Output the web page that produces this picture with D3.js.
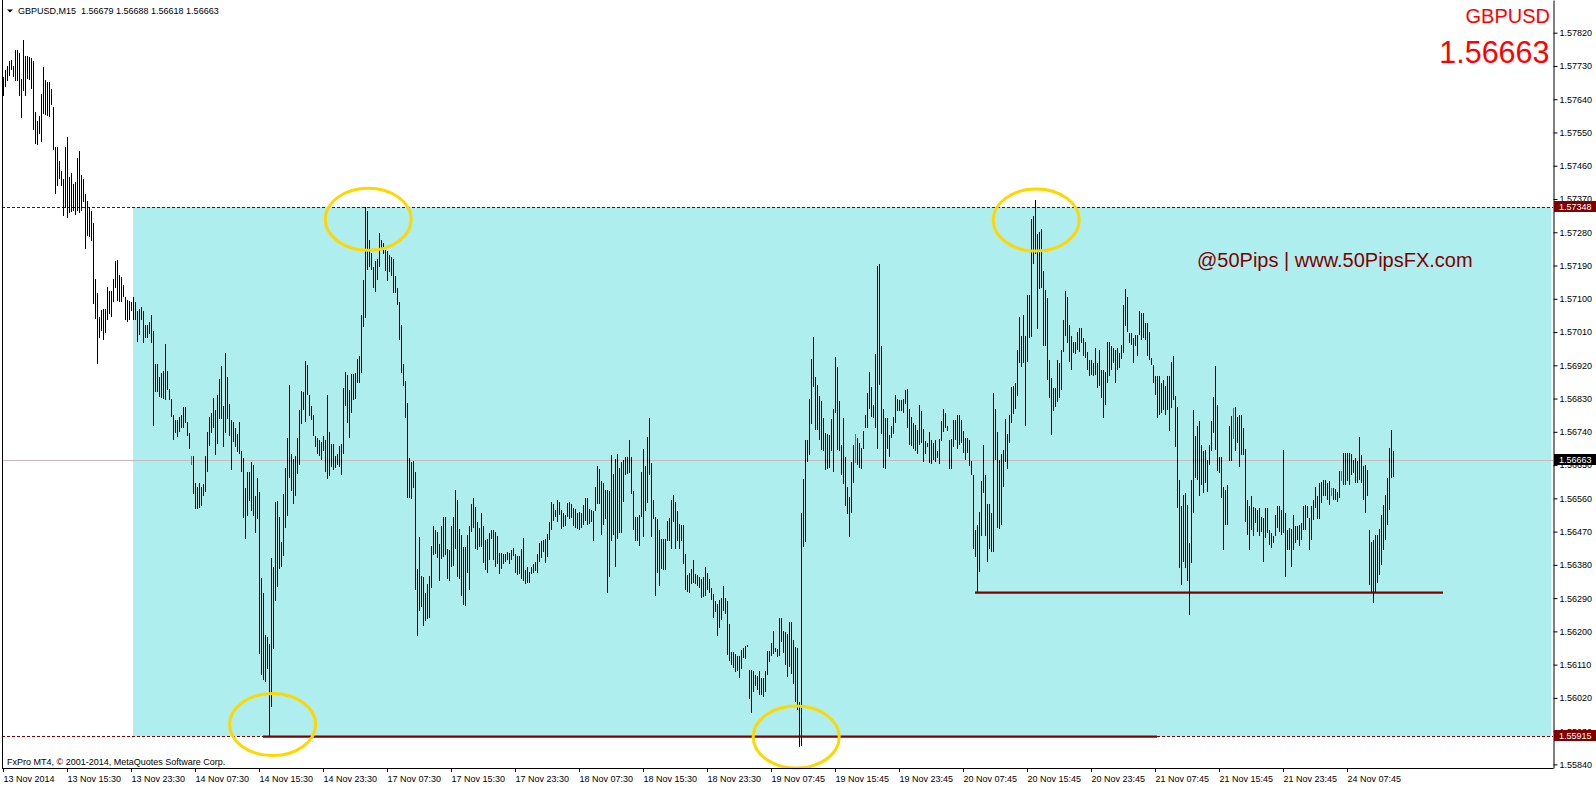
<!DOCTYPE html>
<html><head><meta charset="utf-8">
<script src="https://cdn.jsdelivr.net/npm/d3@7"></script>
<style>
html,body{margin:0;padding:0;background:#fff;overflow:hidden}
svg{display:block}
text{font-family:'Liberation Sans',Arial,sans-serif}
</style></head><body>
<svg id="chart" width="1596" height="786"></svg>
<script>
const symbol = "GBPUSD";
const timeframe = "M15";
const lastBar = {open: 1.56679, high: 1.56688, low: 1.56618, close: 1.56663};

const highs = [
1.57701,1.57719,1.57731,1.57744,1.57747,1.57729,1.57772,1.57774,1.57766,1.57695,
1.57800,1.57757,1.57757,1.57753,1.57751,1.57744,1.57606,1.57582,1.57594,1.57655,
1.57727,1.57692,1.57686,1.57686,1.57668,1.57619,1.57511,1.57511,1.57472,1.57447,
1.57423,1.57511,1.57537,1.57429,1.57441,1.57410,1.57416,1.57480,1.57500,1.57435,
1.57423,1.57383,1.57365,1.57349,1.57337,1.57304,1.57153,1.57116,1.57051,1.57070,
1.57071,1.57073,1.57131,1.57120,1.57122,1.57153,1.57202,1.57206,1.57165,1.57159,
1.57138,1.57104,1.57098,1.57094,1.57092,1.57106,1.57092,1.57067,1.57073,1.57077,
1.57067,1.57030,1.57030,1.57037,1.57057,1.57012,1.56924,1.56924,1.56887,1.56899,
1.56905,1.56978,1.56904,1.56855,1.56828,1.56785,1.56773,1.56773,1.56779,1.56785,
1.56807,1.56807,1.56767,1.56736,1.56675,1.56675,1.56602,1.56592,1.56602,1.56592,
1.56598,1.56675,1.56740,1.56779,1.56791,1.56831,1.56800,1.56840,1.56883,1.56918,
1.56810,1.56954,1.56889,1.56816,1.56773,1.56767,1.56749,1.56733,1.56767,1.56687,
1.56669,1.56589,1.56630,1.56630,1.56657,1.56651,1.56565,1.56614,1.56577,1.56344,
1.56304,1.56191,1.56185,1.56166,1.56399,1.56375,1.56549,1.56552,1.56510,1.56442,
1.56571,1.56641,1.56724,1.56867,1.56681,1.56666,1.56675,1.56724,1.56800,1.56850,
1.56847,1.56932,1.56920,1.56840,1.56810,1.56785,1.56730,1.56724,1.56718,1.56712,
1.56728,1.56718,1.56840,1.56740,1.56706,1.56706,1.56675,1.56681,1.56702,1.56706,
1.56859,1.56902,1.56894,1.56852,1.56897,1.56897,1.56900,1.56938,1.56945,1.57055,
1.57152,1.57348,1.57338,1.57259,1.57223,1.57187,1.57203,1.57208,1.57277,1.57259,
1.57251,1.57233,1.57228,1.57218,1.57213,1.57208,1.57162,1.57128,1.57091,1.57030,
1.56923,1.56877,1.56819,1.56668,1.56658,1.56660,1.56631,1.56368,1.56455,1.56350,
1.56348,1.56305,1.56327,1.56350,1.56432,1.56485,1.56473,1.56470,1.56436,1.56485,
1.56510,1.56510,1.56424,1.56419,1.56485,1.56510,1.56582,1.56556,1.56477,1.56460,
1.56429,1.56427,1.56460,1.56485,1.56546,1.56561,1.56536,1.56495,1.56480,1.56521,
1.56485,1.56446,1.56449,1.56465,1.56473,1.56475,1.56470,1.56457,1.56412,1.56412,
1.56409,1.56409,1.56414,1.56412,1.56419,1.56426,1.56409,1.56404,1.56404,1.56424,
1.56452,1.56365,1.56375,1.56361,1.56373,1.56383,1.56388,1.56409,1.56439,1.56444,
1.56446,1.56449,1.56463,1.56497,1.56551,1.56546,1.56528,1.56556,1.56551,1.56528,
1.56521,1.56516,1.56548,1.56551,1.56546,1.56534,1.56531,1.56521,1.56524,1.56521,
1.56541,1.56561,1.56561,1.56531,1.56528,1.56526,1.56592,1.56648,1.56640,1.56607,
1.56602,1.56582,1.56582,1.56579,1.56676,1.56626,1.56666,1.56680,1.56643,1.56658,
1.56663,1.56673,1.56673,1.56717,1.56673,1.56579,1.56510,1.56510,1.56514,1.56630,
1.56694,1.56648,1.56727,1.56778,1.56656,1.56556,1.56510,1.56505,1.56475,1.56449,
1.56449,1.56449,1.56500,1.56507,1.56556,1.56568,1.56551,1.56526,1.56490,1.56487,
1.56487,1.56409,1.56353,1.56358,1.56368,1.56393,1.56355,1.56353,1.56348,1.56342,
1.56348,1.56373,1.56358,1.56342,1.56317,1.56302,1.56281,1.56273,1.56286,1.56290,
1.56322,1.56290,1.56281,1.56220,1.56144,1.56144,1.56139,1.56134,1.56134,1.56149,
1.56154,1.56161,1.56164,1.56096,1.56095,1.56093,1.56083,1.56078,1.56093,1.56073,
1.56073,1.56093,1.56146,1.56147,1.56169,1.56202,1.56154,1.56151,1.56236,1.56236,
1.56202,1.56198,1.56192,1.56225,1.56225,1.56178,1.56157,1.56154,1.56009,1.56521,
1.56612,1.56719,1.56717,1.56829,1.56938,1.56997,1.56889,1.56867,1.56836,1.56823,
1.56778,1.56737,1.56734,1.56731,1.56775,1.56803,1.56943,1.56915,1.56823,1.56704,
1.56778,1.56673,1.56592,1.56564,1.56658,1.56704,1.56734,1.56724,1.56709,1.56696,
1.56742,1.56785,1.56846,1.56902,1.56862,1.56813,1.56950,1.57189,1.57195,1.56972,
1.56803,1.56778,1.56778,1.56731,1.56755,1.56780,1.56839,1.56829,1.56826,1.56826,
1.56829,1.56852,1.56857,1.56801,1.56780,1.56765,1.56758,1.56745,1.56813,1.56796,
1.56748,1.56714,1.56711,1.56740,1.56717,1.56709,1.56717,1.56689,1.56721,1.56770,
1.56803,1.56792,1.56755,1.56719,1.56721,1.56772,1.56772,1.56785,1.56785,1.56772,
1.56742,1.56724,1.56724,1.56717,1.56660,1.56622,1.56473,1.56487,1.56524,1.56607,
1.56704,1.56622,1.56544,1.56546,1.56521,1.56846,1.56801,1.56740,1.56663,1.56680,
1.56691,1.56775,1.56734,1.56785,1.56860,1.56864,1.56872,1.56961,1.57050,1.56999,
1.57055,1.56999,1.57111,1.57111,1.57317,1.57325,1.57366,1.57274,1.57281,1.57288,
1.57174,1.57124,1.57102,1.56935,1.56885,1.56858,1.56858,1.56935,1.56926,1.56962,
1.57043,1.57120,1.57106,1.57029,1.56998,1.56984,1.56984,1.57011,1.57020,1.57020,
1.56993,1.56984,1.56957,1.56935,1.56935,1.56926,1.56966,1.56926,1.56962,1.56908,
1.56908,1.56903,1.56982,1.56982,1.56971,1.56966,1.56962,1.56966,1.56953,1.56975,
1.57084,1.57126,1.57106,1.57007,1.57007,1.56993,1.57002,1.57002,1.57066,1.57061,
1.57061,1.57034,1.57034,1.57011,1.56939,1.56921,1.56890,1.56892,1.56890,1.56872,
1.56881,1.56863,1.56890,1.56890,1.56930,1.56944,1.56837,1.56808,1.56610,1.56538,
1.56569,1.56574,1.56542,1.56439,1.56610,1.56799,1.56729,1.56756,1.56768,1.56705,
1.56689,1.56691,1.56664,1.56705,1.56768,1.56834,1.56917,1.56813,1.56673,1.56673,
1.56592,1.56583,1.56597,1.56756,1.56783,1.56804,1.56807,1.56781,1.56786,1.56786,
1.56750,1.56693,1.56556,1.56538,1.56567,1.56536,1.56533,1.56529,1.56533,1.56509,
1.56506,1.56533,1.56533,1.56473,1.56466,1.56458,1.56515,1.56538,1.56538,1.56529,
1.56691,1.56520,1.56475,1.56479,1.56477,1.56515,1.56484,1.56486,1.56488,1.56493,
1.56538,1.56542,1.56540,1.56506,1.56538,1.56556,1.56592,1.56565,1.56601,1.56603,
1.56610,1.56610,1.56601,1.56606,1.56588,1.56588,1.56585,1.56578,1.56633,1.56635,
1.56682,1.56682,1.56682,1.56682,1.56680,1.56664,1.56669,1.56660,1.56725,1.56678,
1.56648,1.56651,1.56637,1.56475,1.56443,1.56446,1.56461,1.56461,1.56477,1.56515,
1.56542,1.56569,1.56615,1.56696,1.56745,1.56688
];

const lows = [
1.57649,1.57674,1.57690,1.57704,1.57719,1.57701,1.57690,1.57689,1.57648,1.57588,
1.57662,1.57649,1.57695,1.57692,1.57668,1.57557,1.57518,1.57517,1.57545,1.57523,
1.57600,1.57598,1.57594,1.57592,1.57625,1.57502,1.57383,1.57404,1.57423,1.57404,
1.57325,1.57347,1.57318,1.57331,1.57334,1.57337,1.57328,1.57337,1.57331,1.57337,
1.57361,1.57235,1.57269,1.57266,1.57257,1.57086,1.57045,1.56924,1.56994,1.57012,
1.56988,1.57008,1.57043,1.57060,1.57052,1.57092,1.57128,1.57094,1.57092,1.57092,
1.57104,1.57043,1.57037,1.57043,1.57067,1.57043,1.57043,1.56984,1.57003,1.57043,
1.56981,1.56994,1.56994,1.57006,1.56981,1.56755,1.56847,1.56847,1.56834,1.56832,
1.56828,1.56825,1.56853,1.56825,1.56779,1.56718,1.56736,1.56727,1.56739,1.56749,
1.56751,1.56763,1.56730,1.56693,1.56651,1.56571,1.56530,1.56530,1.56534,1.56538,
1.56565,1.56577,1.56632,1.56702,1.56736,1.56749,1.56678,1.56706,1.56776,1.56776,
1.56700,1.56736,1.56776,1.56730,1.56636,1.56712,1.56700,1.56685,1.56681,1.56632,
1.56507,1.56451,1.56513,1.56552,1.56526,1.56513,1.56467,1.56503,1.56138,1.56081,
1.56068,1.56062,1.56099,1.55915,1.55995,1.56151,1.56283,1.56320,1.56369,1.56375,
1.56405,1.56481,1.56513,1.56614,1.56579,1.56546,1.56565,1.56626,1.56651,1.56761,
1.56798,1.56767,1.56840,1.56783,1.56771,1.56728,1.56700,1.56681,1.56675,1.56665,
1.56687,1.56632,1.56611,1.56620,1.56644,1.56638,1.56641,1.56651,1.56644,1.56622,
1.56681,1.56811,1.56765,1.56724,1.56792,1.56826,1.56828,1.56872,1.56872,1.56899,
1.57023,1.57047,1.57177,1.57187,1.57177,1.57128,1.57118,1.57152,1.57187,1.57233,
1.57220,1.57175,1.57147,1.57172,1.57162,1.57116,1.57116,1.57084,1.56989,1.56900,
1.56864,1.56778,1.56561,1.56561,1.56559,1.56589,1.56312,1.56187,1.56256,1.56266,
1.56215,1.56228,1.56233,1.56236,1.56317,1.56406,1.56409,1.56398,1.56337,1.56396,
1.56402,1.56406,1.56342,1.56337,1.56373,1.56378,1.56424,1.56346,1.56342,1.56297,
1.56271,1.56269,1.56358,1.56312,1.56470,1.56480,1.56422,1.56419,1.56429,1.56429,
1.56385,1.56365,1.56358,1.56393,1.56449,1.56393,1.56373,1.56383,1.56355,1.56368,
1.56383,1.56388,1.56393,1.56383,1.56393,1.56404,1.56358,1.56353,1.56355,1.56342,
1.56337,1.56327,1.56330,1.56332,1.56355,1.56358,1.56363,1.56358,1.56388,1.56398,
1.56414,1.56385,1.56402,1.56446,1.56475,1.56500,1.56510,1.56495,1.56516,1.56477,
1.56483,1.56485,1.56510,1.56505,1.56507,1.56485,1.56480,1.56477,1.56475,1.56480,
1.56487,1.56500,1.56487,1.56490,1.56495,1.56444,1.56526,1.56546,1.56544,1.56460,
1.56487,1.56505,1.56304,1.56348,1.56444,1.56460,1.56375,1.56449,1.56465,1.56465,
1.56551,1.56622,1.56625,1.56628,1.56572,1.56473,1.56444,1.56444,1.56432,1.56510,
1.56455,1.56526,1.56548,1.56622,1.56455,1.56505,1.56297,1.56358,1.56324,1.56368,
1.56365,1.56365,1.56444,1.56444,1.56424,1.56495,1.56424,1.56444,1.56424,1.56444,
1.56383,1.56312,1.56307,1.56304,1.56327,1.56332,1.56327,1.56324,1.56317,1.56290,
1.56292,1.56297,1.56312,1.56304,1.56286,1.56236,1.56253,1.56188,1.56208,1.56231,
1.56256,1.56246,1.56137,1.56119,1.56110,1.56100,1.56090,1.56093,1.56073,1.56098,
1.56129,1.56124,1.56157,1.56017,1.55978,1.56037,1.56052,1.56042,1.56029,1.56027,
1.56022,1.56037,1.56083,1.56116,1.56134,1.56139,1.56144,1.56131,1.56134,1.56171,
1.56141,1.56110,1.56076,1.56103,1.56086,1.56057,1.56009,1.55986,1.55887,1.55890,
1.56429,1.56442,1.56658,1.56676,1.56760,1.56860,1.56745,1.56745,1.56719,1.56691,
1.56689,1.56638,1.56640,1.56643,1.56689,1.56630,1.56792,1.56691,1.56689,1.56622,
1.56599,1.56538,1.56518,1.56455,1.56521,1.56602,1.56656,1.56650,1.56643,1.56640,
1.56694,1.56750,1.56750,1.56801,1.56780,1.56778,1.56750,1.56694,1.56867,1.56734,
1.56643,1.56640,1.56694,1.56673,1.56724,1.56734,1.56765,1.56796,1.56796,1.56796,
1.56792,1.56816,1.56750,1.56704,1.56701,1.56694,1.56689,1.56680,1.56704,1.56709,
1.56658,1.56680,1.56699,1.56656,1.56653,1.56663,1.56658,1.56668,1.56653,1.56714,
1.56740,1.56750,1.56742,1.56640,1.56640,1.56699,1.56719,1.56694,1.56704,1.56709,
1.56684,1.56663,1.56684,1.56648,1.56622,1.56422,1.56402,1.56305,1.56361,1.56457,
1.56575,1.56457,1.56388,1.56424,1.56414,1.56414,1.56663,1.56480,1.56477,1.56487,
1.56592,1.56658,1.56640,1.56709,1.56765,1.56788,1.56801,1.56836,1.56925,1.56915,
1.56925,1.56755,1.56928,1.56994,1.56996,1.57193,1.57220,1.57019,1.57126,1.57129,
1.56971,1.56971,1.56881,1.56831,1.56732,1.56795,1.56808,1.56822,1.56831,1.56854,
1.56957,1.56998,1.56980,1.56930,1.56908,1.56953,1.56951,1.56962,1.56957,1.56980,
1.56944,1.56939,1.56908,1.56890,1.56894,1.56890,1.56894,1.56858,1.56863,1.56831,
1.56777,1.56813,1.56872,1.56890,1.56908,1.56926,1.56872,1.56908,1.56912,1.56937,
1.56953,1.57025,1.57009,1.56980,1.56975,1.56926,1.56971,1.56944,1.57002,1.56989,
1.56993,1.56989,1.56944,1.56935,1.56921,1.56872,1.56840,1.56777,1.56786,1.56792,
1.56799,1.56786,1.56799,1.56741,1.56804,1.56827,1.56700,1.56533,1.56371,1.56326,
1.56389,1.56371,1.56335,1.56245,1.56385,1.56520,1.56615,1.56610,1.56565,1.56597,
1.56574,1.56601,1.56578,1.56651,1.56687,1.56736,1.56691,1.56633,1.56628,1.56560,
1.56421,1.56488,1.56488,1.56660,1.56660,1.56720,1.56687,1.56709,1.56646,1.56678,
1.56678,1.56497,1.56461,1.56421,1.56475,1.56457,1.56493,1.56468,1.56457,1.56470,
1.56389,1.56452,1.56466,1.56434,1.56425,1.56439,1.56457,1.56479,1.56470,1.56461,
1.56466,1.56346,1.56421,1.56421,1.56373,1.56421,1.56439,1.56448,1.56430,1.56448,
1.56475,1.56475,1.56506,1.56421,1.56448,1.56502,1.56533,1.56504,1.56504,1.56547,
1.56565,1.56565,1.56556,1.56542,1.56565,1.56556,1.56556,1.56551,1.56560,1.56606,
1.56597,1.56597,1.56606,1.56597,1.56624,1.56628,1.56601,1.56601,1.56610,1.56601,
1.56556,1.56520,1.56565,1.56326,1.56303,1.56276,1.56303,1.56330,1.56353,1.56380,
1.56420,1.56448,1.56488,1.56528,1.56616,1.56618
];

const magentaBars = [94, 426, 615, 664, 669];

const priceTicks = [1.55840,1.55930,1.56020,1.56110,1.56200,1.56290,1.56380,1.56470,1.56560,1.56650,
  1.56740,1.56830,1.56920,1.57010,1.57100,1.57190,1.57280,1.57370,1.57460,1.57550,1.57640,1.57730,1.57820];

const timeTickBars = [0,32,64,96,128,160,192,224,256,288,320,352,384,416,448,480,512,544,576,608,640,672];
const timeTickLabels = ["13 Nov 2014","13 Nov 15:30","13 Nov 23:30","14 Nov 07:30","14 Nov 15:30","14 Nov 23:30",
  "17 Nov 07:30","17 Nov 15:30","17 Nov 23:30","18 Nov 07:30","18 Nov 15:30","18 Nov 23:30",
  "19 Nov 07:45","19 Nov 15:45","19 Nov 23:45","20 Nov 07:45","20 Nov 15:45","20 Nov 23:45",
  "21 Nov 07:45","21 Nov 15:45","21 Nov 23:45","24 Nov 07:45"];

const zoneTop = 1.57348, zoneBottom = 1.55915, zoneStartBar = 65;
const levelLines = [{from: 130, to: 577, price: 1.55915}, {from: 486, to: 720, price: 1.56305}];
const circled = [{bar: 182.6, price: 1.57315}, {bar: 516.6, price: 1.57313}, {bar: 134.8, price: 1.55948}, {bar: 396.6, price: 1.55914}];
const watermark = "@50Pips | www.50PipsFX.com";
const copyright = "FxPro MT4, \u00A9 2001-2014, MetaQuotes Software Corp.";

// ---------- drawing ----------
const svg = d3.select('#chart');
const plotLeft = 2, plotRight = 1553, plotBottom = 768;
const x = d3.scaleLinear().domain([0, 695]).range([3, 1393]);
const y = d3.scaleLinear().domain([1.558303, 1.579085]).range([plotBottom, 0]);
const F = "'Liberation Sans', Arial, sans-serif";

svg.append('rect').attr('width', 1596).attr('height', 786).attr('fill', '#fff');

// zone
svg.append('rect')
  .attr('x', x(zoneStartBar)).attr('y', y(zoneTop))
  .attr('width', 1551 - x(zoneStartBar)).attr('height', y(zoneBottom) - y(zoneTop))
  .attr('fill', '#AFEEEE');

// bid line
const yBid = Math.floor(y(lastBar.close)) + 0.5;
svg.append('line').attr('x1', plotLeft).attr('x2', plotRight).attr('y1', yBid).attr('y2', yBid)
  .attr('stroke', '#c8baba').attr('stroke-width', 1);

// dashed levels
[zoneTop, zoneBottom].forEach(p => {
  const yy = Math.floor(y(p)) + 0.5;
  svg.append('line').attr('x1', plotLeft).attr('x2', plotRight).attr('y1', yy).attr('y2', yy)
    .attr('stroke', '#800000').attr('stroke-width', 1).attr('stroke-dasharray', '3,2');
});

// bars
svg.append('g').attr('shape-rendering', 'crispEdges')
  .selectAll('rect').data(highs).join('rect')
  .attr('x', (d, i) => x(i))
  .attr('y', d => Math.round(y(d)))
  .attr('width', 1)
  .attr('height', (d, i) => Math.max(1, Math.round(y(lows[i])) - Math.round(y(d))))
  .attr('fill', (d, i) => magentaBars.includes(i) ? '#FF00FF' : '#000');

// level lines
svg.append('g').selectAll('line').data(levelLines).join('line')
  .attr('x1', d => x(d.from)).attr('x2', d => x(d.to))
  .attr('y1', d => y(d.price)).attr('y2', d => y(d.price))
  .attr('stroke', '#800000').attr('stroke-width', 2.2);

// ellipses
svg.append('g').selectAll('ellipse').data(circled).join('ellipse')
  .attr('cx', d => x(d.bar)).attr('cy', d => y(d.price))
  .attr('rx', 43).attr('ry', 31)
  .attr('fill', 'none').attr('stroke', '#FFD700').attr('stroke-width', 3);

// frame
svg.append('line').attr('x1', plotLeft + 0.5).attr('x2', plotLeft + 0.5).attr('y1', 0).attr('y2', plotBottom + 0.5)
  .attr('stroke', '#000');
svg.append('line').attr('x1', plotLeft).attr('x2', plotRight + 0.5).attr('y1', plotBottom + 0.5).attr('y2', plotBottom + 0.5)
  .attr('stroke', '#000');

// right axis
const yAxis = d3.axisRight(y).tickValues(priceTicks).tickFormat(d3.format('.5f'))
  .tickSize(4).tickPadding(2).tickSizeOuter(0);
const gy = svg.append('g').attr('transform', `translate(${plotRight + 0.5},0)`).call(yAxis);
gy.attr('font-family', F).attr('font-size', 9);
gy.selectAll('text').attr('fill', '#000');

// bottom axis
const xAxis = d3.axisBottom(x).tickValues(timeTickBars).tickFormat((d, i) => timeTickLabels[i])
  .tickSize(4).tickSizeOuter(0);
const gx = svg.append('g').attr('transform', `translate(0,${plotBottom})`).call(xAxis);
gx.select('.domain').remove();
gx.attr('font-family', F).attr('font-size', 9);
gx.selectAll('text').attr('text-anchor', 'start').attr('x', 0).attr('y', 14).attr('dy', null).attr('fill', '#000');

// price labels
function priceLabel(p, bg) {
  const yl = Math.floor(y(p));
  svg.append('rect').attr('x', 1554).attr('y', yl - 6).attr('width', 42).attr('height', 11).attr('fill', bg);
  svg.append('text').attr('x', 1559).attr('y', yl + 2.8).attr('fill', '#fff')
    .attr('font-family', F).attr('font-size', 9).text(d3.format('.5f')(p));
}
priceLabel(zoneTop, '#800000');
priceLabel(zoneBottom, '#800000');
priceLabel(lastBar.close, '#000');

// header
svg.append('path').attr('d', 'M7,9.5 L13,9.5 L10,12.5 Z').attr('fill', '#000');
svg.append('text').attr('x', 18).attr('y', 13.5).attr('font-family', F).attr('font-size', 9)
  .style('white-space', 'pre').attr('fill', '#000')
  .text(`${symbol},${timeframe}  ${lastBar.open.toFixed(5)} ${lastBar.high.toFixed(5)} ${lastBar.low.toFixed(5)} ${lastBar.close.toFixed(5)}`);

// copyright
svg.append('text').attr('x', 7).attr('y', 765).attr('font-family', F).attr('font-size', 9).attr('fill', '#000')
  .text(copyright);

// symbol + price top right
svg.append('text').attr('x', 1550).attr('y', 23.3).attr('text-anchor', 'end')
  .attr('font-family', F).attr('font-size', 20).attr('fill', '#FF0000').text(symbol);
svg.append('text').attr('x', 1549.5).attr('y', 63.3).attr('text-anchor', 'end')
  .attr('font-family', F).attr('font-size', 30.5).attr('fill', '#FF0000').text(lastBar.close.toFixed(5));

// watermark
svg.append('text').attr('x', 1197).attr('y', 267)
  .attr('font-family', F).attr('font-size', 20).attr('fill', '#800000').text(watermark);
</script>
</body></html>
